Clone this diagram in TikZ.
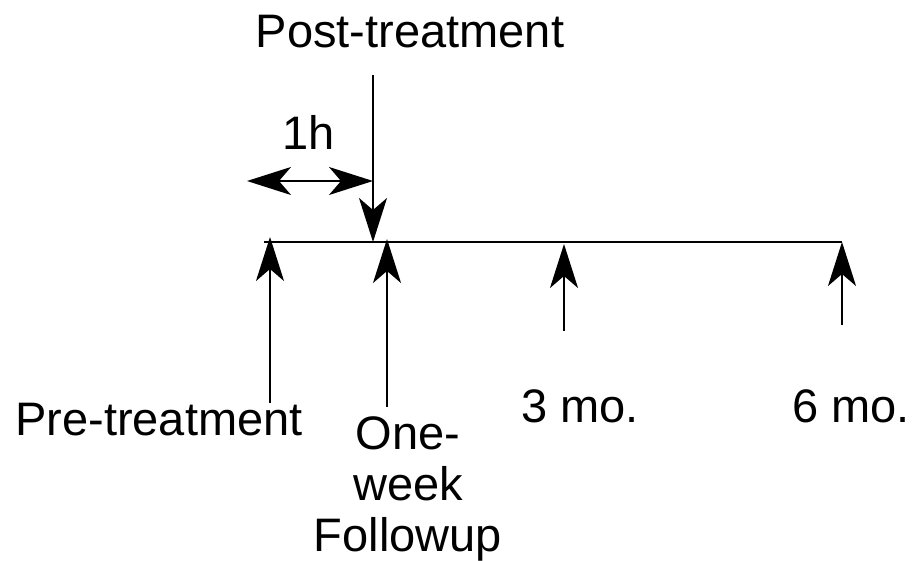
\documentclass[tikz,border=0pt]{standalone}
\usepackage{fontspec}
\setmainfont{Liberation Sans}
\usetikzlibrary{arrows.meta}
\tikzset{
  lbl/.style={inner sep=0pt,font=\fontsize{47}{51}\selectfont},
  tick/.style={line width=2pt,->}
}
\begin{document}
\begin{tikzpicture}[line join=round,>={Stealth[length=44pt,width=28pt,inset=12pt]},x=1pt,y=-1pt]
\useasboundingbox (0,0) rectangle (918,561);
% time axis
\coordinate (axisL) at (264,242);
\coordinate (axisR) at (842,242);
\draw [line width=2pt] (axisL)-- (axisR);
% marks below the axis
\coordinate (preTail) at (270,403);
\coordinate (preTip) at (270,237);
\coordinate (weekTail) at (387,407);
\coordinate (weekTip) at (387,239);
\coordinate (threeTail) at (564,331);
\coordinate (threeTip) at (564,244);
\coordinate (sixTail) at (842,325);
\coordinate (sixTip) at (842,242);
\draw [tick] (preTail)-- (preTip);
\draw [tick] (weekTail)-- (weekTip);
\draw [tick] (threeTail)-- (threeTip);
\draw [tick] (sixTail)-- (sixTip);
% post-treatment mark and interval
\coordinate (postTop) at (373,75);
\coordinate (postTip) at (373,242);
\coordinate (hourL) at (247,181);
\coordinate (hourR) at (373,181);
\draw [tick] (postTop)-- (postTip);
\draw [line width=2pt,<->] (hourL)-- (hourR);
% labels
\node [lbl,anchor=base] (post) at (410,48) {Post-treatment};
\node [lbl,anchor=base] (hour) at (309,150) {1h};
\node [lbl,anchor=base] (pre) at (159,435) {Pre-treatment};
\node [lbl,anchor=north,align=center] (week) at (408,416) {One-\\week\\Followup};
\node [lbl,anchor=base] (three) at (580,422) {3 mo.};
\node [lbl,anchor=base] (six) at (851,422) {6 mo.};
\end{tikzpicture}
\end{document}
